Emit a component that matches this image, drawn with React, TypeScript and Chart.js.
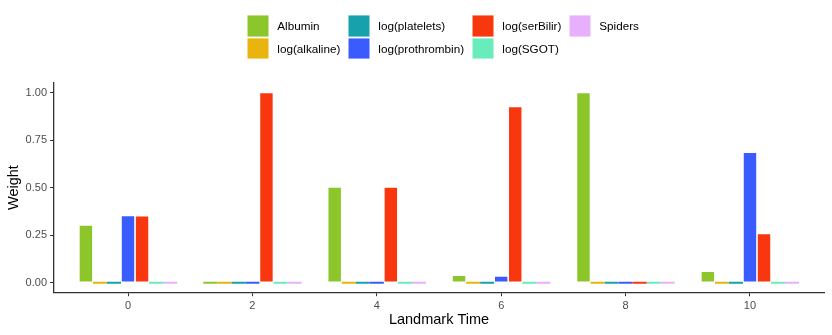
import React, { useEffect, useRef } from "react";
import { Chart, registerables } from "chart.js";

Chart.register(...registerables);

const landmarkTimes = [0, 2, 4, 6, 8, 10];
const seriesNames = [
  "Albumin",
  "log(alkaline)",
  "log(platelets)",
  "log(prothrombin)",
  "log(serBilir)",
  "log(SGOT)",
  "Spiders",
];
const seriesColors = ["#8CC62A", "#E9B40E", "#16A1AD", "#3A5CFF", "#F8370F", "#69ECBB", "#E8B0FC"];

const albumin = [0.303, 0, 0.504, 0.04, 1.0, 0.061];
const logAlkaline = [0, 0, 0, 0, 0, 0];
const logPlatelets = [0, 0, 0, 0, 0, 0];
const logProthrombin = [0.354, 0, 0, 0.035, 0, 0.686];
const logSerBilir = [0.352, 1.0, 0.504, 0.927, 0, 0.259];
const logSGOT = [0, 0, 0, 0, 0, 0];
const spiders = [0, 0, 0, 0, 0, 0];

const seriesValues = [albumin, logAlkaline, logPlatelets, logProthrombin, logSerBilir, logSGOT, spiders];

const yTicks = [0, 0.25, 0.5, 0.75, 1.0];
const xTicks = [0, 2, 4, 6, 8, 10];

const FONT = "'Liberation Sans', Arial, Helvetica, sans-serif";

// legend layout: column-major, 2 rows
const legendCols = [247, 348, 472, 569];
const legendRows = [15, 37.5];

export default function App() {
  const canvasRef = useRef<HTMLCanvasElement | null>(null);

  useEffect(() => {
    const canvas = canvasRef.current;
    if (!canvas) return;
    const chart = new Chart(canvas, {
      type: "bar",
      data: {
        datasets: seriesNames.map((name, i) => ({
          label: name,
          data: landmarkTimes.map((t, j) => ({ x: t, y: seriesValues[i][j] })),
          backgroundColor: seriesColors[i],
          borderColor: "rgba(255,255,255,0.85)",
          borderWidth: (ctx: any) => (ctx.raw && ctx.raw.y > 0 ? 0.8 : 0),
          borderSkipped: false,
          minBarLength: 2,
          categoryPercentage: 0.79,
          barPercentage: 1,
        })),
      },
      options: {
        responsive: false,
        animation: false,
        devicePixelRatio: 1,
        layout: { padding: { top: 83, right: 8, left: 0, bottom: 0 } },
        plugins: {
          legend: { display: false },
          tooltip: { enabled: false },
        },
        scales: {
          x: {
            type: "linear",
            min: -1.19,
            max: 11.19,
            offset: false,
            afterBuildTicks: (scale: any) => {
              scale.ticks = xTicks.map((v) => ({ value: v }));
            },
            afterFit: (scale: any) => {
              scale.height = 42.8;
            },
            ticks: {
              color: "#4D4D4D",
              font: { family: FONT, size: 11 },
              padding: 3,
              maxRotation: 0,
              callback: (v: any) => String(v),
            },
            grid: {
              display: true,
              offset: false,
              drawOnChartArea: false,
              drawTicks: true,
              tickLength: 4,
              color: "#333333",
              lineWidth: 1,
            },
            border: { display: true, color: "#333333", width: 1.3 },
            title: {
              display: true,
              text: "Landmark Time",
              color: "#000000",
              font: { family: FONT, size: 14.5 },
              padding: { top: 0, bottom: 6.5 },
            },
          },
          y: {
            type: "linear",
            min: -0.05,
            max: 1.05,
            afterBuildTicks: (scale: any) => {
              scale.ticks = yTicks.map((v) => ({ value: v }));
            },
            afterFit: (scale: any) => {
              scale.width = 54;
            },
            ticks: {
              color: "#4D4D4D",
              font: { family: FONT, size: 11 },
              padding: 3,
              callback: (v: any) => Number(v).toFixed(2),
            },
            grid: {
              display: true,
              drawOnChartArea: false,
              drawTicks: true,
              tickLength: 4,
              color: "#333333",
              lineWidth: 1,
            },
            border: { display: true, color: "#333333", width: 1.3 },
            title: {
              display: true,
              text: "Weight",
              color: "#000000",
              font: { family: FONT, size: 14.5 },
              padding: { top: 5, bottom: 0 },
            },
          },
        },
      } as any,
    });
    return () => chart.destroy();
  }, []);

  return (
    <div style={{ position: "absolute", left: 0, top: 0, width: 832, height: 335, background: "#fff" }}>
      <canvas ref={canvasRef} width={832} height={335} style={{ display: "block" }} />
      {seriesNames.map((name, i) => {
        const col = Math.floor(i / 2);
        const row = i % 2;
        const x = legendCols[col];
        const y = legendRows[row];
        return (
          <div key={name}>
            <div
              style={{
                position: "absolute",
                left: x,
                top: y,
                width: 22,
                height: 21.5,
                background: seriesColors[i],
                boxShadow: "inset 0 0 0 0.6px rgba(255,255,255,0.85)",
              }}
            />
            <div
              style={{
                position: "absolute",
                left: x + 30.3,
                top: y,
                height: 22,
                lineHeight: "22px",
                fontFamily: FONT,
                fontSize: 11.7,
                color: "#000",
                whiteSpace: "nowrap",
              }}
            >
              {name}
            </div>
          </div>
        );
      })}
    </div>
  );
}
